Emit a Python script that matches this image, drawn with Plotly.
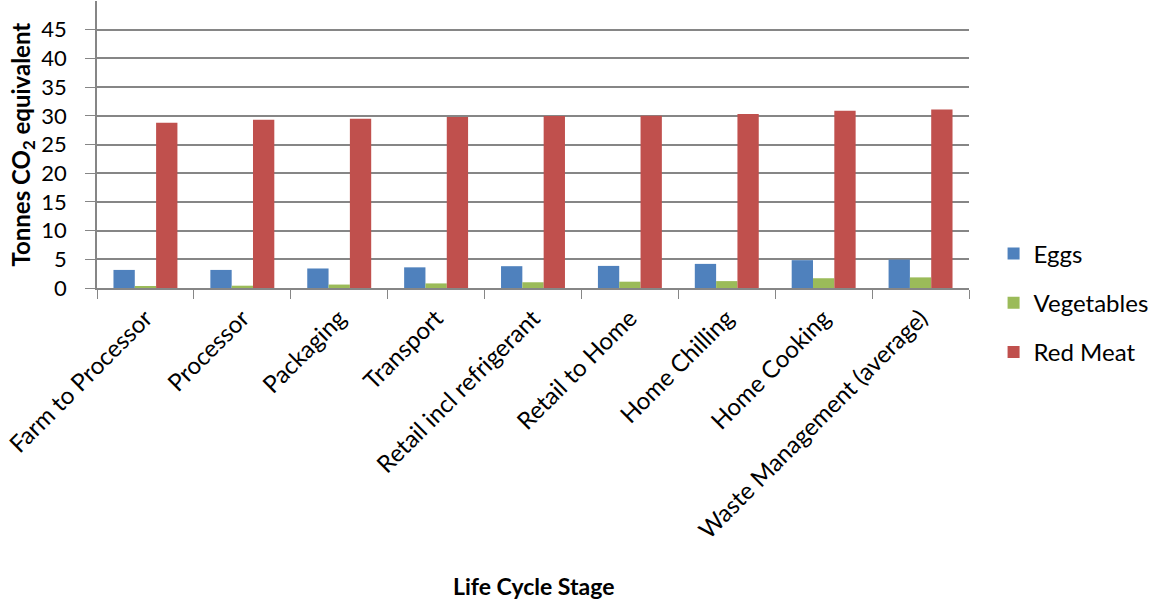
import plotly.graph_objects as go

categories = ["Farm to Processor", "Processor", "Packaging", "Transport",
              "Retail incl refrigerant", "Retail to Home", "Home Chilling",
              "Home Cooking", "Waste Management (average)"]
eggs = [3.15, 3.15, 3.4, 3.6, 3.8, 3.85, 4.2, 4.85, 4.95]
vegetables = [0.3, 0.4, 0.6, 0.8, 1.0, 1.1, 1.2, 1.7, 1.85]
red_meat = [28.8, 29.3, 29.5, 29.8, 29.95, 30.0, 30.3, 30.9, 31.1]
y_ticks = [0, 5, 10, 15, 20, 25, 30, 35, 40, 45]

FONT = "Lato"
fig = go.Figure()
for name, vals, col, grp in [("Eggs", eggs, "#4F81BD", "a"),
                             ("Vegetables", vegetables, "#9BBB59", "b"),
                             ("Red Meat", red_meat, "#C0504D", "c")]:
    fig.add_trace(go.Bar(x=categories, y=vals, name=name, legendgroup=grp,
                         marker=dict(color=col, line=dict(width=0))))

fig.update_layout(
    width=1154, height=601,
    margin=dict(l=97, r=184, t=1, b=313),
    paper_bgcolor="white", plot_bgcolor="white",
    barmode="group", bargap=0.34, bargroupgap=0,
    font=dict(family=FONT, size=24, color="black"),
    showlegend=True,
    legend=dict(x=1.027, y=-0.052, xanchor="left", yanchor="middle",
                traceorder="grouped", tracegroupgap=15,
                font=dict(family=FONT, size=24, color="black")),
    annotations=[
        dict(text="<b>Life Cycle Stage</b>", xref="paper", yref="paper",
             x=0.5, y=0, xanchor="center", yanchor="middle", yshift=-298,
             showarrow=False, font=dict(family=FONT, size=23, color="black")),
        dict(text="<b>Tonnes CO<sub>2</sub> equivalent</b>", xref="paper", yref="paper",
             x=0, y=0.5, xanchor="center", yanchor="middle", xshift=-75,
             textangle=-90, showarrow=False,
             font=dict(family=FONT, size=24, color="black")),
    ],
)
fig.update_xaxes(
    automargin=False,
    tickangle=-45, tickson="boundaries", ticks="outside", ticklen=9,
    ticklabelstandoff=5,
    tickcolor="#868686", showline=True, linecolor="#868686", linewidth=1.5,
    showgrid=False,
    tickfont=dict(family=FONT, size=24),
)
fig.update_yaxes(
    automargin=False,
    range=[0, 50], tickvals=y_ticks, ticks="outside", ticklen=10,
    ticklabelstandoff=14,
    tickcolor="#868686", showline=True, linecolor="#868686", linewidth=1.5,
    showgrid=True, gridcolor="#868686", gridwidth=1.5, zeroline=False,
    tickfont=dict(family=FONT, size=22),
)
fig.write_html("out.html", config={"displayModeBar": False},
               post_script="document.body.style.margin='0';")
